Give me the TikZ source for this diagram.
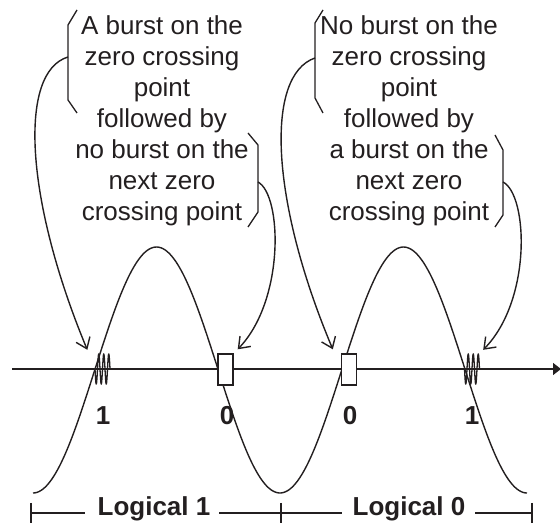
\documentclass[tikz,border=0pt]{standalone}
\usepackage{fontspec}
\setmainfont{Liberation Sans}
\usetikzlibrary{arrows.meta,calc}
\definecolor{ink}{RGB}{35,31,32}
\begin{document}
\begin{tikzpicture}[x=1pt,y=-1pt,line width=1.4pt,color=ink,
  lbl/.style={font=\fontsize{26}{31}\selectfont,align=center,inner sep=0pt,anchor=north},
  bit/.style={font=\fontsize{26}{31}\selectfont\bfseries,inner sep=0pt,anchor=base},
  logic/.style={font=\fontsize{26}{31}\selectfont\bfseries,inner sep=0pt,anchor=base},
  nobox/.style={draw,fill=white,minimum width=15pt,minimum height=31pt,inner sep=0pt},
  burstbox/.style={minimum width=15pt,minimum height=31pt,inner sep=0pt},
  brace/.style={line width=1.3pt},
  pointer/.style={line width=1.4pt,-{Straight Barb[length=10pt,width=15pt,line width=1.4pt]}},
  axis/.style={line width=1.4pt,-{Triangle[length=8pt,width=12pt]}},
  tick/.style={line width=1.4pt}]
\useasboundingbox (0,0) rectangle (560,526);

% text blocks
\node[lbl] (tA) at (162,15) {A burst on the\\zero crossing\\point\\followed by\\no burst on the\\next zero\\crossing point};
\node[lbl] (tB) at (409,15) {No burst on the\\zero crossing\\point\\followed by\\a burst on the\\next zero\\crossing point};

% braces
\draw[brace] (77,10) -- (68,25) -- (68,100) -- (77,113);
\draw[brace] (248,133) -- (258,145) -- (258,212) -- (248,227);
\draw[brace] (323,10) -- (315,23) -- (315,98) -- (323,113);
\draw[brace] (495,135) -- (503,150) -- (503,215) -- (495,227);
\coordinate (sA1) at (68,57);
\coordinate (sA2) at (258,182);
\coordinate (sB1) at (315,58);
\coordinate (sB2) at (503,182);

% axis
\coordinate (axL) at (12,369);
\coordinate (axR) at (561,369);
\draw[axis] (axL) -- (axR);

% wave
\draw plot[domain=33:527,samples=240,smooth] (\x,{370+123*cos(1.457490*(\x-33))});

% bursts and empty slots
\node[burstbox] (b1) at (102.5,369) {};
\node[burstbox] (b2) at (472,369) {};
\node[nobox] (n1) at (225.5,369.5) {};
\node[nobox] (n2) at (349,369.5) {};
\draw[line width=1.3pt] plot[domain=0:15,samples=200] ({95+\x},{369+15*sin(\x*72)});
\draw[line width=1.3pt] plot[domain=0:15,samples=200] ({464.5+\x},{369+15*sin(\x*72)});

% arrow tips
\coordinate (pA1) at ($(b1.north west)+(-7,-3)$);
\coordinate (pA2) at ($(n1.north east)+(4,-4)$);
\coordinate (pB1) at ($(n2.north west)+(-8,-4)$);
\coordinate (pB2) at ($(b2.north east)+(3,-3)$);

\draw[pointer] (sA1) .. controls (18,72) and (25,200) .. (pA1);
\draw[pointer] (sA2) .. controls (282,195) and (285,300) .. (pA2);
\draw[pointer] (sB1) .. controls (265,75) and (270,200) .. (pB1);
\draw[pointer] (sB2) .. controls (528,195) and (532,300) .. (pB2);

% bit labels
\node[bit] (d1) at (103,425) {1};
\node[bit] (d2) at (227,425) {0};
\node[bit] (d3) at (350,425) {0};
\node[bit] (d4) at (472,425) {1};

% logical ranges
\coordinate (t1) at (31,513);
\coordinate (t2) at (281,513);
\coordinate (t3) at (532,513);
\draw[tick] ($(t1)+(0,-10)$) -- ($(t1)+(0,10)$);
\draw[tick] ($(t2)+(0,-10)$) -- ($(t2)+(0,10)$);
\draw[tick] ($(t3)+(0,-10)$) -- ($(t3)+(0,10)$);
\node[logic] (L1) at (154,516) {Logical 1};
\node[logic] (L0) at (409,516) {Logical 0};
\draw[tick] (t1) -- ($(t1 -| L1.west)+(-12,0)$);
\draw[tick] ($(t1 -| L1.east)+(8,0)$) -- (t2);
\draw[tick] (t2) -- ($(t2 -| L0.west)+(-10,0)$);
\draw[tick] ($(t2 -| L0.east)+(9,0)$) -- (t3);
\end{tikzpicture}
\end{document}
